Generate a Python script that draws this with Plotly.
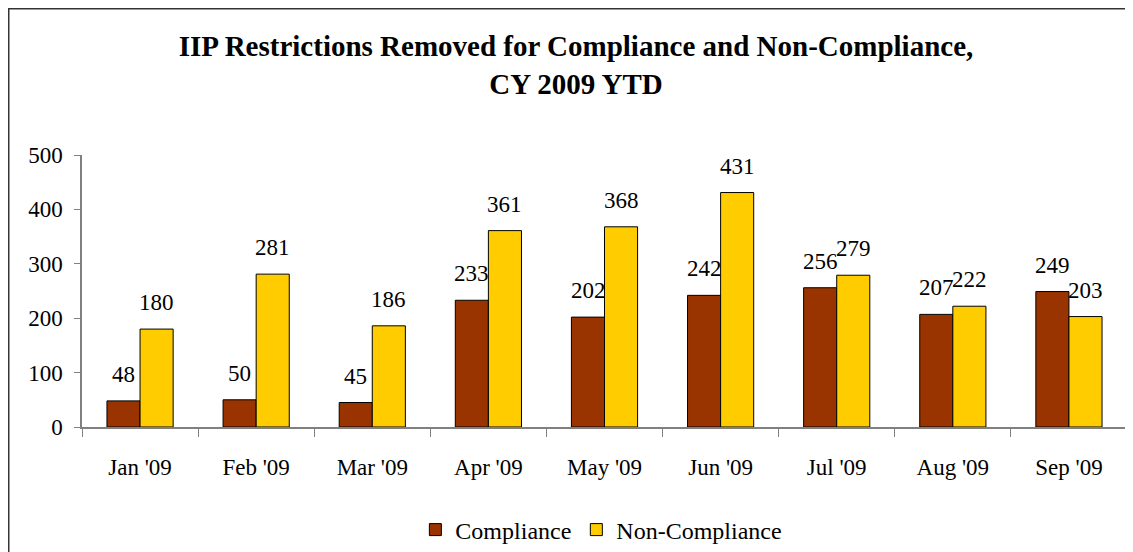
import plotly.graph_objects as go

months = ["Jan '09", "Feb '09", "Mar '09", "Apr '09", "May '09",
          "Jun '09", "Jul '09", "Aug '09", "Sep '09"]
compliance = [48, 50, 45, 233, 202, 242, 256, 207, 249]
non_compliance = [180, 281, 186, 361, 368, 431, 279, 222, 203]

FONT = "Liberation Serif, Times New Roman, serif"
BAR_HALF = 16.5  # half a bar width in px, used to centre the value labels

# the page body has an 8px margin, so the figure is 8px smaller than the window
W, H = 1125, 544

fig = go.Figure()
fig.add_trace(go.Bar(
    x=months, y=compliance, name="Compliance",
    marker=dict(color="#993300", line=dict(color="#000000", width=1)),
))
fig.add_trace(go.Bar(
    x=months, y=non_compliance, name="Non-Compliance",
    marker=dict(color="#FFCC00", line=dict(color="#000000", width=1)),
))

# value labels sit a bit higher above the bars than plotly's own outside text
for series, shift in ((compliance, -BAR_HALF), (non_compliance, BAR_HALF)):
    for m, v in zip(months, series):
        fig.add_annotation(
            x=m, y=v, xref="x", yref="y", text=str(v), showarrow=False,
            xshift=shift, yshift=12, yanchor="bottom",
            font=dict(family=FONT, size=23, color="#000000"),
        )

fig.update_layout(
    width=W, height=H,
    margin=dict(l=74, r=6, t=147, b=125, autoexpand=False),
    paper_bgcolor="white", plot_bgcolor="white",
    font=dict(family=FONT, size=23, color="#000000"),
    title=dict(
        text="<b>IIP Restrictions Removed for Compliance and Non-Compliance,<br>CY 2009 YTD</b>",
        x=568 / W, xanchor="center", y=1 - 48 / H, yanchor="middle",
        font=dict(family=FONT, size=29, color="#000000"),
    ),
    barmode="group", bargap=0.43, bargroupgap=0,
    showlegend=True,
    legend=dict(
        orientation="h", x=0.497, xanchor="center",
        yref="container", y=1 - 522 / H, yanchor="middle",
        font=dict(family=FONT, size=24), traceorder="normal",
        itemwidth=30,
    ),
    shapes=[dict(
        type="rect", xref="paper", yref="paper",
        x0=-0.0701, x1=1.2, y0=-0.6, y1=1.5377,
        line=dict(color="#333333", width=1.5), fillcolor="rgba(0,0,0,0)",
    )],
)
fig.update_xaxes(
    showline=True, linecolor="#808080", linewidth=1.5,
    ticks="outside", tickson="boundaries", ticklen=8, tickcolor="#808080",
    ticklabelstandoff=19, showgrid=False, automargin=False,
)
fig.update_yaxes(
    range=[0, 500], dtick=100, showline=True, linecolor="#808080", linewidth=1.5,
    ticks="outside", ticklen=6, tickcolor="#808080", ticklabelstandoff=7,
    showgrid=False, zeroline=False, automargin=False,
)

fig.write_html("out.html")
